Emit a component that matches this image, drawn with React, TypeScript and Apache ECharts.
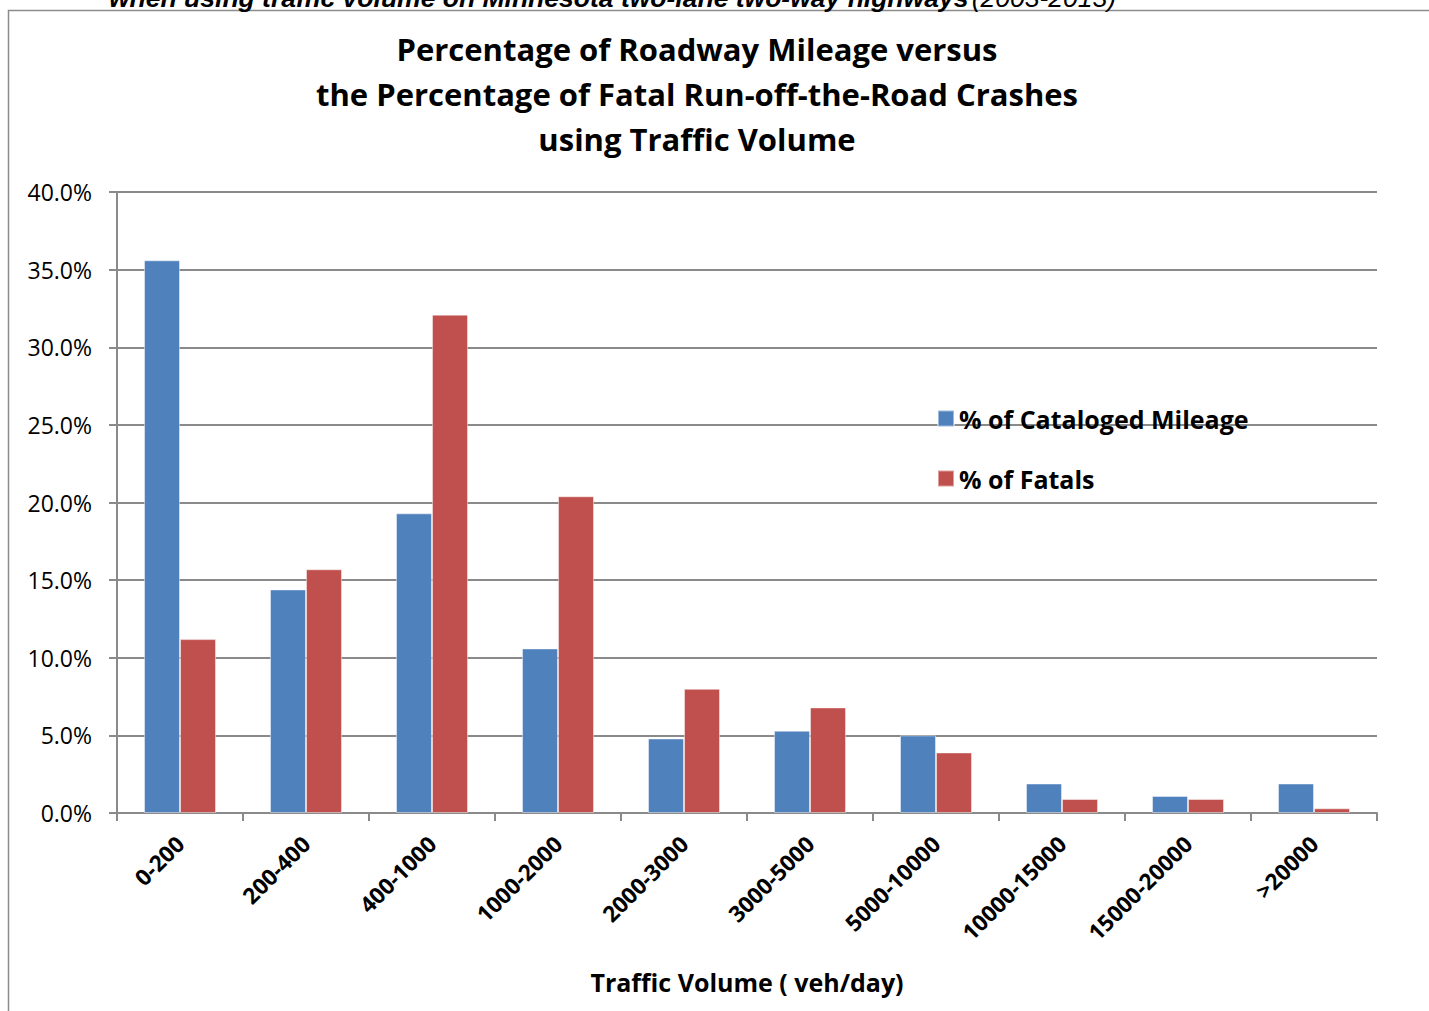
import React, { useEffect, useRef } from "react";
import * as echarts from "echarts";

// Traffic volume bands (veh/day)
const categories = [
  "0-200",
  "200-400",
  "400-1000",
  "1000-2000",
  "2000-3000",
  "3000-5000",
  "5000-10000",
  "10000-15000",
  "15000-20000",
  ">20000",
];

// Share of cataloged roadway mileage per band (%)
const mileagePct = [35.6, 14.4, 19.3, 10.6, 4.8, 5.3, 5.0, 1.9, 1.1, 1.9];

// Share of fatal run-off-the-road crashes per band (%)
const fatalPct = [11.2, 15.7, 32.1, 20.4, 8.0, 6.8, 3.9, 0.9, 0.9, 0.3];

const seriesNames = ["% of Cataloged Mileage", "% of Fatals"];

const titleLines = [
  "Percentage of Roadway Mileage versus",
  "the Percentage of Fatal Run-off-the-Road Crashes",
  "using Traffic Volume",
];

const captionBold = "when using traffic volume on Minnesota two-lane two-way highways";
const captionPlain = "(2003-2013)";

const FONT = "'Open Sans', Lato, sans-serif";
const CAPTION_FONT = "'Liberation Sans', Arial, sans-serif";
const GRID_COLOR = "#8a8a8a";

export default function App() {
  const ref = useRef<HTMLDivElement>(null);

  useEffect(() => {
    if (!ref.current) return;
    const chart = echarts.init(ref.current, undefined, { renderer: "svg" });

    chart.setOption({
      animation: false,
      backgroundColor: "#ffffff",
      textStyle: { fontFamily: FONT },
      grid: { left: 117, right: 52, top: 192, bottom: 198, containLabel: false },
      legend: {
        orient: "vertical",
        left: 932,
        top: 401,
        itemWidth: 16,
        itemHeight: 16,
        itemGap: 35,
        icon: "rect",
        data: seriesNames,
        textStyle: { fontFamily: FONT, fontWeight: "bold", fontSize: 25, color: "#000" },
      },
      xAxis: {
        type: "category",
        data: categories,
        boundaryGap: true,
        axisLine: { lineStyle: { color: GRID_COLOR, width: 2 } },
        axisTick: { show: true, length: 8, alignWithLabel: false, lineStyle: { color: GRID_COLOR, width: 2 } },
        axisLabel: {
          rotate: 45,
          margin: 27,
          interval: 0,
          fontFamily: FONT,
          fontWeight: "bold",
          fontSize: 22.5,
          color: "#000",
        },
        name: "Traffic Volume ( veh/day)",
        nameLocation: "middle",
        nameGap: 156,
        nameTextStyle: { fontFamily: FONT, fontWeight: "bold", fontSize: 25, color: "#000" },
      },
      yAxis: {
        type: "value",
        min: 0,
        max: 40,
        interval: 5,
        axisLine: { show: true, lineStyle: { color: GRID_COLOR, width: 2 } },
        axisTick: { show: true, length: 8, lineStyle: { color: GRID_COLOR, width: 2 } },
        splitLine: { show: true, lineStyle: { color: GRID_COLOR, width: 2 } },
        axisLabel: {
          margin: 25,
          fontFamily: FONT,
          fontSize: 23,
          color: "#000",
          formatter: (v: number) => v.toFixed(1) + "%",
        },
      },
      series: [
        {
          name: seriesNames[0],
          type: "bar",
          data: mileagePct,
          barWidth: 36,
          barGap: "0%",
          itemStyle: { color: "#4F81BD", borderColor: "rgba(255,255,255,0.45)", borderWidth: 1 },
        },
        {
          name: seriesNames[1],
          type: "bar",
          data: fatalPct,
          barWidth: 36,
          barGap: "0%",
          itemStyle: { color: "#C0504D", borderColor: "rgba(255,255,255,0.45)", borderWidth: 1 },
        },
      ],
      graphic: [
        {
          type: "rect",
          shape: { x: 8.5, y: 10.5, width: 1440, height: 1020 },
          style: { fill: "none", stroke: "#8c8c8c", lineWidth: 1.5 },
          z: 0,
        },
        {
          type: "text",
          x: 109,
          y: 11,
          style: {
            text: "{b|" + captionBold + "} {r|" + captionPlain + "}",
            textVerticalAlign: "bottom",
            rich: {
              b: { fontFamily: CAPTION_FONT, fontStyle: "italic", fontWeight: "bold", fontSize: 26.5, fill: "#000" },
              r: { fontFamily: CAPTION_FONT, fontStyle: "italic", fontSize: 26.5, fill: "#000" },
            },
          },
        },
        {
          type: "text",
          x: 697,
          y: 94,
          style: {
            text: titleLines.join("\n"),
            textAlign: "center",
            textVerticalAlign: "middle",
            fontFamily: FONT,
            fontWeight: "bold",
            fontSize: 31,
            lineHeight: 45,
            fill: "#000",
          },
        },
      ],
    });

    return () => chart.dispose();
  }, []);

  return (
    <div
      ref={ref}
      style={{ position: "fixed", left: 0, top: 0, width: 1429, height: 1011 }}
    />
  );
}
